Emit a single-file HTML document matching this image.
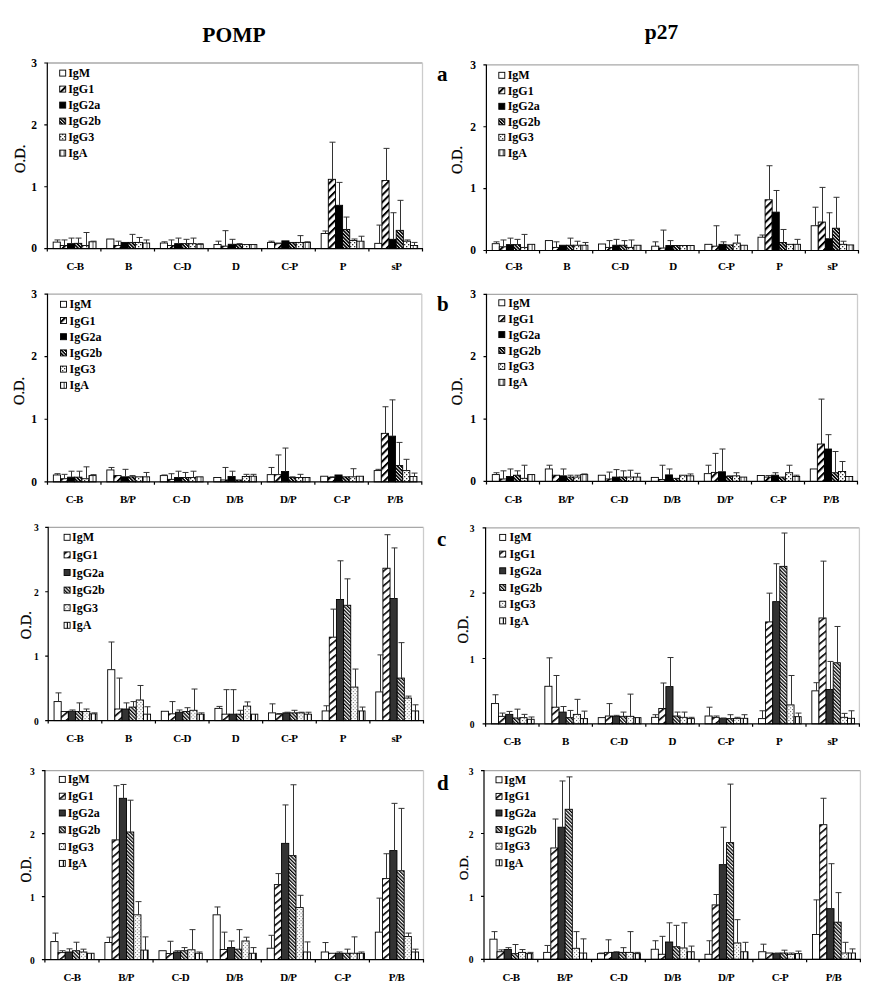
<!DOCTYPE html>
<html><head><meta charset="utf-8"><style>
html,body{margin:0;padding:0;background:#fff;}
svg{display:block;}
text{font-family:"Liberation Serif",serif;font-weight:bold;fill:#000;}
.tk{font-size:11.5px;text-anchor:end;}
.cat{font-size:11px;text-anchor:middle;}
.od{font-size:14.5px;text-anchor:middle;font-weight:normal;stroke:#000;stroke-width:0.3px;}
.lg{font-size:12px;}
.ttl{font-size:21.5px;text-anchor:middle;}
.let{font-size:21px;}
</style></head><body>
<svg width="875" height="1000" viewBox="0 0 875 1000">

<defs>
<pattern id="pG1_1" patternUnits="userSpaceOnUse" width="5.09" height="10" patternTransform="rotate(45)">
 <rect width="5.09" height="10" fill="#fff"/><rect width="2.0" height="10" fill="#000"/></pattern>
<pattern id="pG1_2" patternUnits="userSpaceOnUse" width="5.6" height="10" patternTransform="rotate(50)">
 <rect width="5.6" height="10" fill="#fff"/><rect width="1.6" height="10" fill="#000"/></pattern>
<pattern id="pG2b_1" patternUnits="userSpaceOnUse" width="2.47" height="10" patternTransform="rotate(-45)">
 <rect width="2.47" height="10" fill="#fff"/><rect width="1.6" height="10" fill="#000"/></pattern>
<pattern id="pG2b_2" patternUnits="userSpaceOnUse" width="2.55" height="10" patternTransform="rotate(-45)">
 <rect width="2.55" height="10" fill="#fff"/><rect width="1.3" height="10" fill="#000"/></pattern>
<pattern id="pG3_1" patternUnits="userSpaceOnUse" width="4" height="4">
 <rect width="4" height="4" fill="#fff"/><rect x="0" y="0" width="1.3" height="1.3" fill="#333"/><rect x="2" y="2" width="1.3" height="1.3" fill="#333"/></pattern>
<pattern id="pG3_2" patternUnits="userSpaceOnUse" width="3.6" height="3.6">
 <rect width="3.6" height="3.6" fill="#fff"/><rect x="0" y="0" width="1" height="1" fill="#555"/><rect x="1.8" y="1.8" width="1" height="1" fill="#555"/></pattern>
<pattern id="pA_1" patternUnits="userSpaceOnUse" width="3.6" height="4">
 <rect width="3.6" height="4" fill="#fff"/><rect x="2.4" width="1" height="4" fill="#444"/></pattern>
<pattern id="pA_2" patternUnits="userSpaceOnUse" width="4" height="4">
 <rect width="4" height="4" fill="#fff"/><rect x="2.8" width="1.2" height="4" fill="#111"/></pattern>
</defs>
<rect width="875" height="1000" fill="#fff"/>
<g>
<text x="234" y="41.8" class="ttl">POMP</text>
<text x="661.5" y="38.8" class="ttl">p27</text>
<text x="437" y="81.4" class="let">a</text>
<text x="437" y="310.8" class="let">b</text>
<text x="437" y="546" class="let">c</text>
<text x="437" y="789.8" class="let">d</text>
<path d="M47.3 63H422.5" fill="none" stroke="#a8a8a8" stroke-width="1.3"/>
<path d="M422.5 63V248.6" fill="none" stroke="#ccc" stroke-width="1.3"/>
<rect x="53.16" y="242.1" width="7.15" height="6.5" fill="#fff" stroke="#000" stroke-width="0.9"/>
<rect x="60.31" y="245.51" width="7.15" height="3.09" fill="url(#pG1_1)" stroke="#000" stroke-width="0.9"/>
<rect x="67.45" y="243.65" width="7.15" height="4.95" fill="#000" stroke="#000" stroke-width="0.9"/>
<rect x="74.6" y="243.34" width="7.15" height="5.26" fill="url(#pG2b_1)" stroke="#000" stroke-width="0.9"/>
<rect x="81.75" y="245.51" width="7.15" height="3.09" fill="url(#pG3_1)" stroke="#000" stroke-width="0.9"/>
<rect x="88.89" y="241.79" width="7.15" height="6.81" fill="url(#pA_1)" stroke="#000" stroke-width="0.9"/>
<rect x="106.76" y="239.01" width="7.15" height="9.59" fill="#fff" stroke="#000" stroke-width="0.9"/>
<rect x="113.91" y="245.51" width="7.15" height="3.09" fill="url(#pG1_1)" stroke="#000" stroke-width="0.9"/>
<rect x="121.05" y="242.41" width="7.15" height="6.19" fill="#000" stroke="#000" stroke-width="0.9"/>
<rect x="128.2" y="242.41" width="7.15" height="6.19" fill="url(#pG2b_1)" stroke="#000" stroke-width="0.9"/>
<rect x="135.35" y="242.41" width="7.15" height="6.19" fill="url(#pG3_1)" stroke="#000" stroke-width="0.9"/>
<rect x="142.49" y="243.03" width="7.15" height="5.57" fill="url(#pA_1)" stroke="#000" stroke-width="0.9"/>
<rect x="160.36" y="243.03" width="7.15" height="5.57" fill="#fff" stroke="#000" stroke-width="0.9"/>
<rect x="167.51" y="245.51" width="7.15" height="3.09" fill="url(#pG1_1)" stroke="#000" stroke-width="0.9"/>
<rect x="174.65" y="243.65" width="7.15" height="4.95" fill="#000" stroke="#000" stroke-width="0.9"/>
<rect x="181.8" y="243.65" width="7.15" height="4.95" fill="url(#pG2b_1)" stroke="#000" stroke-width="0.9"/>
<rect x="188.95" y="243.65" width="7.15" height="4.95" fill="url(#pG3_1)" stroke="#000" stroke-width="0.9"/>
<rect x="196.09" y="244.27" width="7.15" height="4.33" fill="url(#pA_1)" stroke="#000" stroke-width="0.9"/>
<rect x="213.96" y="244.58" width="7.15" height="4.02" fill="#fff" stroke="#000" stroke-width="0.9"/>
<rect x="221.11" y="246.13" width="7.15" height="2.47" fill="url(#pG1_1)" stroke="#000" stroke-width="0.9"/>
<rect x="228.25" y="244.27" width="7.15" height="4.33" fill="#000" stroke="#000" stroke-width="0.9"/>
<rect x="235.4" y="244.58" width="7.15" height="4.02" fill="url(#pG2b_1)" stroke="#000" stroke-width="0.9"/>
<rect x="242.55" y="244.58" width="7.15" height="4.02" fill="url(#pG3_1)" stroke="#000" stroke-width="0.9"/>
<rect x="249.69" y="244.58" width="7.15" height="4.02" fill="url(#pA_1)" stroke="#000" stroke-width="0.9"/>
<rect x="267.56" y="242.41" width="7.15" height="6.19" fill="#fff" stroke="#000" stroke-width="0.9"/>
<rect x="274.71" y="243.65" width="7.15" height="4.95" fill="url(#pG1_1)" stroke="#000" stroke-width="0.9"/>
<rect x="281.85" y="240.87" width="7.15" height="7.73" fill="#000" stroke="#000" stroke-width="0.9"/>
<rect x="289" y="242.41" width="7.15" height="6.19" fill="url(#pG2b_1)" stroke="#000" stroke-width="0.9"/>
<rect x="296.15" y="242.41" width="7.15" height="6.19" fill="url(#pG3_1)" stroke="#000" stroke-width="0.9"/>
<rect x="303.29" y="242.41" width="7.15" height="6.19" fill="url(#pA_1)" stroke="#000" stroke-width="0.9"/>
<rect x="321.16" y="233.44" width="7.15" height="15.16" fill="#fff" stroke="#000" stroke-width="0.9"/>
<rect x="328.31" y="179.31" width="7.15" height="69.29" fill="url(#pG1_1)" stroke="#000" stroke-width="0.9"/>
<rect x="335.45" y="205.29" width="7.15" height="43.31" fill="#000" stroke="#000" stroke-width="0.9"/>
<rect x="342.6" y="229.42" width="7.15" height="19.18" fill="url(#pG2b_1)" stroke="#000" stroke-width="0.9"/>
<rect x="349.75" y="240.56" width="7.15" height="8.04" fill="url(#pG3_1)" stroke="#000" stroke-width="0.9"/>
<rect x="356.89" y="241.18" width="7.15" height="7.42" fill="url(#pA_1)" stroke="#000" stroke-width="0.9"/>
<rect x="374.76" y="243.34" width="7.15" height="5.26" fill="#fff" stroke="#000" stroke-width="0.9"/>
<rect x="381.91" y="180.55" width="7.15" height="68.05" fill="url(#pG1_1)" stroke="#000" stroke-width="0.9"/>
<rect x="389.05" y="239.32" width="7.15" height="9.28" fill="#000" stroke="#000" stroke-width="0.9"/>
<rect x="396.2" y="230.35" width="7.15" height="18.25" fill="url(#pG2b_1)" stroke="#000" stroke-width="0.9"/>
<rect x="403.35" y="241.18" width="7.15" height="7.42" fill="url(#pG3_1)" stroke="#000" stroke-width="0.9"/>
<rect x="410.49" y="245.51" width="7.15" height="3.09" fill="url(#pA_1)" stroke="#000" stroke-width="0.9"/>
<path d="M57.5 242.1V239.94M54.5 239.94H60.5M64.5 245.51V239.94M61.5 239.94H67.5M71.5 243.65V238.08M68.5 238.08H74.5M78.5 243.34V238.08M75.5 238.08H81.5M86.5 245.51V232.51M83.5 232.51H89.5M93.5 241.79V241.18M90.5 241.18H96.5M118.5 245.51V241.18M115.5 241.18H121.5M132.5 242.41V234.37M129.5 234.37H135.5M139.5 242.41V237.46M136.5 237.46H142.5M146.5 243.03V239.94M143.5 239.94H149.5M164.5 243.03V241.79M161.5 241.79H167.5M171.5 245.51V239.94M168.5 239.94H174.5M178.5 243.65V238.08M175.5 238.08H181.5M186.5 243.65V239.32M183.5 239.32H189.5M193.5 243.65V238.08M190.5 238.08H196.5M200.5 244.27V243.65M197.5 243.65H203.5M218.5 244.58V241.18M215.5 241.18H221.5M225.5 246.13V230.66M222.5 230.66H228.5M232.5 244.27V239.32M229.5 239.32H235.5M239.5 244.58V243.65M236.5 243.65H242.5M271.5 242.41V241.18M268.5 241.18H274.5M278.5 243.65V243.03M275.5 243.03H281.5M300.5 242.41V235.61M297.5 235.61H303.5M307.5 242.41V241.79M304.5 241.79H310.5M325.5 233.44V230.97M322.5 230.97H328.5M332.5 179.31V142.19M329.5 142.19H335.5M339.5 205.29V182.4M336.5 182.4H342.5M346.5 229.42V217.05M343.5 217.05H349.5M354.5 240.56V239.01M351.5 239.01H357.5M361.5 241.18V236.23M358.5 236.23H364.5M379.5 243.34V225.09M376.5 225.09H382.5M386.5 180.55V148.38M383.5 148.38H389.5M393.5 239.32V212.72M390.5 212.72H396.5M400.5 230.35V200.34M397.5 200.34H403.5M407.5 241.18V239.94M404.5 239.94H410.5M414.5 245.51V242.41M411.5 242.41H417.5" fill="none" stroke="#333" stroke-width="1"/>
<path d="M47.3 62.5V251.6M44.3 248.6H47.3M44.3 186.73H47.3M44.3 124.87H47.3M44.3 63H47.3M47.3 248.6H423M100.9 248.6V251.6M154.5 248.6V251.6M208.1 248.6V251.6M261.7 248.6V251.6M315.3 248.6V251.6M368.9 248.6V251.6M422.5 248.6V251.6" fill="none" stroke="#000" stroke-width="1.2"/>
<text x="37" y="252.4" class="tk">0</text>
<text x="37" y="190.53" class="tk">1</text>
<text x="37" y="128.67" class="tk">2</text>
<text x="37" y="66.8" class="tk">3</text>
<text x="74.9" y="269.7" class="cat" letter-spacing="-0.7">C-B</text>
<text x="128.5" y="269.7" class="cat" letter-spacing="-0.5">B</text>
<text x="182.1" y="269.7" class="cat" letter-spacing="-0.7">C-D</text>
<text x="235.7" y="269.7" class="cat" letter-spacing="-0.5">D</text>
<text x="289.3" y="269.7" class="cat" letter-spacing="-0.7">C-P</text>
<text x="342.9" y="269.7" class="cat" letter-spacing="-0.5">P</text>
<text x="396.5" y="269.7" class="cat" letter-spacing="-0.5">sP</text>
<text transform="translate(25 158.8) rotate(-90) scale(1.0 1)" class="od" style="font-size:14.5px">O.D.</text>
<rect x="59.7" y="70.1" width="6" height="6" fill="#fff" stroke="#000" stroke-width="0.9"/>
<text x="68.2" y="77.1" class="lg">IgM</text>
<rect x="59.7" y="86.1" width="6" height="6" fill="url(#pG1_1)" stroke="#000" stroke-width="0.9"/>
<text x="68.2" y="93.1" class="lg">IgG1</text>
<rect x="59.7" y="102.1" width="6" height="6" fill="#000" stroke="#000" stroke-width="0.9"/>
<text x="68.2" y="109.1" class="lg">IgG2a</text>
<rect x="59.7" y="118.1" width="6" height="6" fill="url(#pG2b_1)" stroke="#000" stroke-width="0.9"/>
<text x="68.2" y="125.1" class="lg">IgG2b</text>
<rect x="59.7" y="134.1" width="6" height="6" fill="url(#pG3_1)" stroke="#000" stroke-width="0.9"/>
<text x="68.2" y="141.1" class="lg">IgG3</text>
<rect x="59.7" y="150.1" width="6" height="6" fill="url(#pA_1)" stroke="#000" stroke-width="0.9"/>
<text x="68.2" y="157.1" class="lg">IgA</text>
<path d="M486.4 64.9H858.5" fill="none" stroke="#a8a8a8" stroke-width="1.3"/>
<path d="M858.5 64.9V250.5" fill="none" stroke="#ccc" stroke-width="1.3"/>
<rect x="492.22" y="243.69" width="7.09" height="6.81" fill="#fff" stroke="#000" stroke-width="0.9"/>
<rect x="499.3" y="246.79" width="7.09" height="3.71" fill="url(#pG1_1)" stroke="#000" stroke-width="0.9"/>
<rect x="506.39" y="244.62" width="7.09" height="5.88" fill="#000" stroke="#000" stroke-width="0.9"/>
<rect x="513.48" y="244.62" width="7.09" height="5.88" fill="url(#pG2b_1)" stroke="#000" stroke-width="0.9"/>
<rect x="520.57" y="247.41" width="7.09" height="3.09" fill="url(#pG3_1)" stroke="#000" stroke-width="0.9"/>
<rect x="527.65" y="244.31" width="7.09" height="6.19" fill="url(#pA_1)" stroke="#000" stroke-width="0.9"/>
<rect x="545.37" y="240.6" width="7.09" height="9.9" fill="#fff" stroke="#000" stroke-width="0.9"/>
<rect x="552.46" y="247.41" width="7.09" height="3.09" fill="url(#pG1_1)" stroke="#000" stroke-width="0.9"/>
<rect x="559.55" y="245.24" width="7.09" height="5.26" fill="#000" stroke="#000" stroke-width="0.9"/>
<rect x="566.64" y="245.24" width="7.09" height="5.26" fill="url(#pG2b_1)" stroke="#000" stroke-width="0.9"/>
<rect x="573.72" y="245.24" width="7.09" height="5.26" fill="url(#pG3_1)" stroke="#000" stroke-width="0.9"/>
<rect x="580.81" y="245.24" width="7.09" height="5.26" fill="url(#pA_1)" stroke="#000" stroke-width="0.9"/>
<rect x="598.53" y="244" width="7.09" height="6.5" fill="#fff" stroke="#000" stroke-width="0.9"/>
<rect x="605.62" y="247.41" width="7.09" height="3.09" fill="url(#pG1_1)" stroke="#000" stroke-width="0.9"/>
<rect x="612.71" y="245.24" width="7.09" height="5.26" fill="#000" stroke="#000" stroke-width="0.9"/>
<rect x="619.79" y="245.24" width="7.09" height="5.26" fill="url(#pG2b_1)" stroke="#000" stroke-width="0.9"/>
<rect x="626.88" y="247.41" width="7.09" height="3.09" fill="url(#pG3_1)" stroke="#000" stroke-width="0.9"/>
<rect x="633.97" y="245.24" width="7.09" height="5.26" fill="url(#pA_1)" stroke="#000" stroke-width="0.9"/>
<rect x="651.69" y="246.17" width="7.09" height="4.33" fill="#fff" stroke="#000" stroke-width="0.9"/>
<rect x="658.77" y="248.03" width="7.09" height="2.47" fill="url(#pG1_1)" stroke="#000" stroke-width="0.9"/>
<rect x="665.86" y="245.55" width="7.09" height="4.95" fill="#000" stroke="#000" stroke-width="0.9"/>
<rect x="672.95" y="245.55" width="7.09" height="4.95" fill="url(#pG2b_1)" stroke="#000" stroke-width="0.9"/>
<rect x="680.04" y="245.55" width="7.09" height="4.95" fill="url(#pG3_1)" stroke="#000" stroke-width="0.9"/>
<rect x="687.13" y="245.55" width="7.09" height="4.95" fill="url(#pA_1)" stroke="#000" stroke-width="0.9"/>
<rect x="704.84" y="244.31" width="7.09" height="6.19" fill="#fff" stroke="#000" stroke-width="0.9"/>
<rect x="711.93" y="246.17" width="7.09" height="4.33" fill="url(#pG1_1)" stroke="#000" stroke-width="0.9"/>
<rect x="719.02" y="244.31" width="7.09" height="6.19" fill="#000" stroke="#000" stroke-width="0.9"/>
<rect x="726.11" y="244.93" width="7.09" height="5.57" fill="url(#pG2b_1)" stroke="#000" stroke-width="0.9"/>
<rect x="733.19" y="243.08" width="7.09" height="7.42" fill="url(#pG3_1)" stroke="#000" stroke-width="0.9"/>
<rect x="740.28" y="245.24" width="7.09" height="5.26" fill="url(#pA_1)" stroke="#000" stroke-width="0.9"/>
<rect x="758" y="237.2" width="7.09" height="13.3" fill="#fff" stroke="#000" stroke-width="0.9"/>
<rect x="765.09" y="199.77" width="7.09" height="50.73" fill="url(#pG1_1)" stroke="#000" stroke-width="0.9"/>
<rect x="772.18" y="212.14" width="7.09" height="38.36" fill="#000" stroke="#000" stroke-width="0.9"/>
<rect x="779.26" y="242.46" width="7.09" height="8.04" fill="url(#pG2b_1)" stroke="#000" stroke-width="0.9"/>
<rect x="786.35" y="244.31" width="7.09" height="6.19" fill="url(#pG3_1)" stroke="#000" stroke-width="0.9"/>
<rect x="793.44" y="244.31" width="7.09" height="6.19" fill="url(#pA_1)" stroke="#000" stroke-width="0.9"/>
<rect x="811.16" y="225.75" width="7.09" height="24.75" fill="#fff" stroke="#000" stroke-width="0.9"/>
<rect x="818.25" y="222.04" width="7.09" height="28.46" fill="url(#pG1_1)" stroke="#000" stroke-width="0.9"/>
<rect x="825.33" y="238.75" width="7.09" height="11.75" fill="#000" stroke="#000" stroke-width="0.9"/>
<rect x="832.42" y="228.23" width="7.09" height="22.27" fill="url(#pG2b_1)" stroke="#000" stroke-width="0.9"/>
<rect x="839.51" y="244.31" width="7.09" height="6.19" fill="url(#pG3_1)" stroke="#000" stroke-width="0.9"/>
<rect x="846.6" y="244.93" width="7.09" height="5.57" fill="url(#pA_1)" stroke="#000" stroke-width="0.9"/>
<path d="M496.5 243.69V241.84M493.5 241.84H499.5M503.5 246.79V239.98M500.5 239.98H506.5M510.5 244.62V238.13M507.5 238.13H513.5M517.5 244.62V239.36M514.5 239.36H520.5M524.5 247.41V234.41M521.5 234.41H527.5M556.5 247.41V241.84M553.5 241.84H559.5M570.5 245.24V238.13M567.5 238.13H573.5M577.5 245.24V241.22M574.5 241.22H580.5M585.5 245.24V242.46M582.5 242.46H588.5M609.5 247.41V240.6M606.5 240.6H612.5M616.5 245.24V239.36M613.5 239.36H619.5M624.5 245.24V240.6M621.5 240.6H627.5M631.5 247.41V239.98M628.5 239.98H634.5M655.5 246.17V241.84M652.5 241.84H658.5M663.5 248.03V230.08M660.5 230.08H666.5M670.5 245.55V240.6M667.5 240.6H673.5M716.5 246.17V225.75M713.5 225.75H719.5M723.5 244.31V241.84M720.5 241.84H726.5M737.5 243.08V235.03M734.5 235.03H740.5M762.5 237.2V235.03M759.5 235.03H765.5M769.5 199.77V165.74M766.5 165.74H772.5M776.5 212.14V190.49M773.5 190.49H779.5M783.5 242.46V229.47M780.5 229.47H786.5M797.5 244.31V239.36M794.5 239.36H800.5M815.5 225.75V207.19M812.5 207.19H818.5M822.5 222.04V187.4M819.5 187.4H825.5M829.5 238.75V212.76M826.5 212.76H832.5M836.5 228.23V197.29M833.5 197.29H839.5M843.5 244.31V241.22M840.5 241.22H846.5" fill="none" stroke="#333" stroke-width="1"/>
<path d="M486.4 64.4V253.5M483.4 250.5H486.4M483.4 188.63H486.4M483.4 126.77H486.4M483.4 64.9H486.4M486.4 250.5H859M539.56 250.5V253.5M592.71 250.5V253.5M645.87 250.5V253.5M699.03 250.5V253.5M752.19 250.5V253.5M805.34 250.5V253.5M858.5 250.5V253.5" fill="none" stroke="#000" stroke-width="1.2"/>
<text x="476" y="254.3" class="tk">0</text>
<text x="476" y="192.43" class="tk">1</text>
<text x="476" y="130.57" class="tk">2</text>
<text x="476" y="68.7" class="tk">3</text>
<text x="513.58" y="269.9" class="cat" letter-spacing="-0.7">C-B</text>
<text x="566.74" y="269.9" class="cat" letter-spacing="-0.5">B</text>
<text x="619.89" y="269.9" class="cat" letter-spacing="-0.7">C-D</text>
<text x="673.05" y="269.9" class="cat" letter-spacing="-0.5">D</text>
<text x="726.21" y="269.9" class="cat" letter-spacing="-0.7">C-P</text>
<text x="779.36" y="269.9" class="cat" letter-spacing="-0.5">P</text>
<text x="832.52" y="269.9" class="cat" letter-spacing="-0.5">sP</text>
<text transform="translate(462 160) rotate(-90) scale(1.0 1)" class="od" style="font-size:14.5px">O.D.</text>
<rect x="498.8" y="72.3" width="6" height="6" fill="#fff" stroke="#000" stroke-width="0.9"/>
<text x="507.7" y="79.3" class="lg">IgM</text>
<rect x="498.8" y="87.8" width="6" height="6" fill="url(#pG1_1)" stroke="#000" stroke-width="0.9"/>
<text x="507.7" y="94.8" class="lg">IgG1</text>
<rect x="498.8" y="103.3" width="6" height="6" fill="#000" stroke="#000" stroke-width="0.9"/>
<text x="507.7" y="110.3" class="lg">IgG2a</text>
<rect x="498.8" y="118.8" width="6" height="6" fill="url(#pG2b_1)" stroke="#000" stroke-width="0.9"/>
<text x="507.7" y="125.8" class="lg">IgG2b</text>
<rect x="498.8" y="134.3" width="6" height="6" fill="url(#pG3_1)" stroke="#000" stroke-width="0.9"/>
<text x="507.7" y="141.3" class="lg">IgG3</text>
<rect x="498.8" y="149.8" width="6" height="6" fill="url(#pA_1)" stroke="#000" stroke-width="0.9"/>
<text x="507.7" y="156.8" class="lg">IgA</text>
<path d="M47.5 294.1H421.8" fill="none" stroke="#a8a8a8" stroke-width="1.3"/>
<path d="M421.8 294.1V481.85" fill="none" stroke="#ccc" stroke-width="1.3"/>
<rect x="53.35" y="474.97" width="7.13" height="6.88" fill="#fff" stroke="#000" stroke-width="0.9"/>
<rect x="60.48" y="478.72" width="7.13" height="3.13" fill="url(#pG1_1)" stroke="#000" stroke-width="0.9"/>
<rect x="67.61" y="477.16" width="7.13" height="4.69" fill="#000" stroke="#000" stroke-width="0.9"/>
<rect x="74.74" y="477.16" width="7.13" height="4.69" fill="url(#pG2b_1)" stroke="#000" stroke-width="0.9"/>
<rect x="81.87" y="478.72" width="7.13" height="3.13" fill="url(#pG3_1)" stroke="#000" stroke-width="0.9"/>
<rect x="88.99" y="475.59" width="7.13" height="6.26" fill="url(#pA_1)" stroke="#000" stroke-width="0.9"/>
<rect x="106.82" y="469.96" width="7.13" height="11.89" fill="#fff" stroke="#000" stroke-width="0.9"/>
<rect x="113.95" y="475.59" width="7.13" height="6.26" fill="url(#pG1_1)" stroke="#000" stroke-width="0.9"/>
<rect x="121.08" y="476.84" width="7.13" height="5.01" fill="#000" stroke="#000" stroke-width="0.9"/>
<rect x="128.21" y="476.84" width="7.13" height="5.01" fill="url(#pG2b_1)" stroke="#000" stroke-width="0.9"/>
<rect x="135.34" y="476.84" width="7.13" height="5.01" fill="url(#pG3_1)" stroke="#000" stroke-width="0.9"/>
<rect x="142.47" y="476.84" width="7.13" height="5.01" fill="url(#pA_1)" stroke="#000" stroke-width="0.9"/>
<rect x="160.29" y="475.59" width="7.13" height="6.26" fill="#fff" stroke="#000" stroke-width="0.9"/>
<rect x="167.42" y="479.35" width="7.13" height="2.5" fill="url(#pG1_1)" stroke="#000" stroke-width="0.9"/>
<rect x="174.55" y="477.47" width="7.13" height="4.38" fill="#000" stroke="#000" stroke-width="0.9"/>
<rect x="181.68" y="477.47" width="7.13" height="4.38" fill="url(#pG2b_1)" stroke="#000" stroke-width="0.9"/>
<rect x="188.81" y="477.47" width="7.13" height="4.38" fill="url(#pG3_1)" stroke="#000" stroke-width="0.9"/>
<rect x="195.94" y="476.84" width="7.13" height="5.01" fill="url(#pA_1)" stroke="#000" stroke-width="0.9"/>
<rect x="213.76" y="477.47" width="7.13" height="4.38" fill="#fff" stroke="#000" stroke-width="0.9"/>
<rect x="220.89" y="479.97" width="7.13" height="1.88" fill="url(#pG1_1)" stroke="#000" stroke-width="0.9"/>
<rect x="228.02" y="476.53" width="7.13" height="5.32" fill="#000" stroke="#000" stroke-width="0.9"/>
<rect x="235.15" y="479.97" width="7.13" height="1.88" fill="url(#pG2b_1)" stroke="#000" stroke-width="0.9"/>
<rect x="242.28" y="476.53" width="7.13" height="5.32" fill="url(#pG3_1)" stroke="#000" stroke-width="0.9"/>
<rect x="249.41" y="476.22" width="7.13" height="5.63" fill="url(#pA_1)" stroke="#000" stroke-width="0.9"/>
<rect x="267.23" y="474.65" width="7.13" height="7.2" fill="#fff" stroke="#000" stroke-width="0.9"/>
<rect x="274.36" y="474.65" width="7.13" height="7.2" fill="url(#pG1_1)" stroke="#000" stroke-width="0.9"/>
<rect x="281.49" y="471.52" width="7.13" height="10.33" fill="#000" stroke="#000" stroke-width="0.9"/>
<rect x="288.62" y="477.47" width="7.13" height="4.38" fill="url(#pG2b_1)" stroke="#000" stroke-width="0.9"/>
<rect x="295.75" y="477.47" width="7.13" height="4.38" fill="url(#pG3_1)" stroke="#000" stroke-width="0.9"/>
<rect x="302.88" y="477.47" width="7.13" height="4.38" fill="url(#pA_1)" stroke="#000" stroke-width="0.9"/>
<rect x="320.7" y="476.22" width="7.13" height="5.63" fill="#fff" stroke="#000" stroke-width="0.9"/>
<rect x="327.83" y="477.47" width="7.13" height="4.38" fill="url(#pG1_1)" stroke="#000" stroke-width="0.9"/>
<rect x="334.96" y="474.97" width="7.13" height="6.88" fill="#000" stroke="#000" stroke-width="0.9"/>
<rect x="342.09" y="476.84" width="7.13" height="5.01" fill="url(#pG2b_1)" stroke="#000" stroke-width="0.9"/>
<rect x="349.22" y="476.84" width="7.13" height="5.01" fill="url(#pG3_1)" stroke="#000" stroke-width="0.9"/>
<rect x="356.35" y="476.22" width="7.13" height="5.63" fill="url(#pA_1)" stroke="#000" stroke-width="0.9"/>
<rect x="374.18" y="470.59" width="7.13" height="11.27" fill="#fff" stroke="#000" stroke-width="0.9"/>
<rect x="381.31" y="433.35" width="7.13" height="48.5" fill="url(#pG1_1)" stroke="#000" stroke-width="0.9"/>
<rect x="388.43" y="436.16" width="7.13" height="45.69" fill="#000" stroke="#000" stroke-width="0.9"/>
<rect x="395.56" y="465.58" width="7.13" height="16.27" fill="url(#pG2b_1)" stroke="#000" stroke-width="0.9"/>
<rect x="402.69" y="470.59" width="7.13" height="11.27" fill="url(#pG3_1)" stroke="#000" stroke-width="0.9"/>
<rect x="409.82" y="476.53" width="7.13" height="5.32" fill="url(#pA_1)" stroke="#000" stroke-width="0.9"/>
<path d="M57.5 474.97V473.71M54.5 473.71H60.5M64.5 478.72V474.34M61.5 474.34H67.5M71.5 477.16V471.21M68.5 471.21H74.5M79.5 477.16V471.21M76.5 471.21H82.5M86.5 478.72V466.83M83.5 466.83H89.5M93.5 475.59V474.65M90.5 474.65H96.5M111.5 469.96V467.46M108.5 467.46H114.5M125.5 476.84V469.33M122.5 469.33H128.5M132.5 476.84V475.59M129.5 475.59H135.5M146.5 476.84V472.46M143.5 472.46H149.5M164.5 475.59V474.97M161.5 474.97H167.5M171.5 479.35V473.71M168.5 473.71H174.5M178.5 477.47V471.21M175.5 471.21H181.5M185.5 477.47V472.46M182.5 472.46H188.5M193.5 477.47V471.21M190.5 471.21H196.5M225.5 479.97V467.46M222.5 467.46H228.5M232.5 476.53V471.21M229.5 471.21H235.5M246.5 476.53V474.34M243.5 474.34H249.5M253.5 476.22V474.34M250.5 474.34H256.5M271.5 474.65V467.46M268.5 467.46H274.5M278.5 474.65V454.94M275.5 454.94H281.5M285.5 471.52V448.06M282.5 448.06H288.5M292.5 477.47V476.84M289.5 476.84H295.5M300.5 477.47V474.34M297.5 474.34H303.5M332.5 477.47V476.84M329.5 476.84H335.5M353.5 476.84V468.71M350.5 468.71H356.5M378.5 470.59V469.33M375.5 469.33H381.5M385.5 433.35V406.75M382.5 406.75H388.5M392.5 436.16V399.87M389.5 399.87H395.5M399.5 465.58V442.42M396.5 442.42H402.5M406.5 470.59V459.32M403.5 459.32H409.5M414.5 476.53V473.09M411.5 473.09H417.5" fill="none" stroke="#333" stroke-width="1"/>
<path d="M47.5 293.6V484.85M44.5 481.85H47.5M44.5 419.27H47.5M44.5 356.68H47.5M44.5 294.1H47.5M47.5 481.85H422.3M100.97 481.85V484.85M154.44 481.85V484.85M207.91 481.85V484.85M261.39 481.85V484.85M314.86 481.85V484.85M368.33 481.85V484.85M421.8 481.85V484.85" fill="none" stroke="#000" stroke-width="1.2"/>
<text x="37" y="485.65" class="tk">0</text>
<text x="37" y="423.07" class="tk">1</text>
<text x="37" y="360.48" class="tk">2</text>
<text x="37" y="297.9" class="tk">3</text>
<text x="74.24" y="502.8" class="cat" letter-spacing="-0.7">C-B</text>
<text x="127.71" y="502.8" class="cat" letter-spacing="-0.5">B/P</text>
<text x="181.18" y="502.8" class="cat" letter-spacing="-0.7">C-D</text>
<text x="234.65" y="502.8" class="cat" letter-spacing="-0.5">D/B</text>
<text x="288.12" y="502.8" class="cat" letter-spacing="-0.5">D/P</text>
<text x="341.59" y="502.8" class="cat" letter-spacing="-0.7">C-P</text>
<text x="395.06" y="502.8" class="cat" letter-spacing="-0.5">P/B</text>
<text transform="translate(24.2 391) rotate(-90) scale(1.0 1)" class="od" style="font-size:14.5px">O.D.</text>
<rect x="60.5" y="301.3" width="6" height="6" fill="#fff" stroke="#000" stroke-width="0.9"/>
<text x="69.6" y="308.3" class="lg">IgM</text>
<rect x="60.5" y="317.5" width="6" height="6" fill="url(#pG1_1)" stroke="#000" stroke-width="0.9"/>
<text x="69.6" y="324.5" class="lg">IgG1</text>
<rect x="60.5" y="333.7" width="6" height="6" fill="#000" stroke="#000" stroke-width="0.9"/>
<text x="69.6" y="340.7" class="lg">IgG2a</text>
<rect x="60.5" y="349.9" width="6" height="6" fill="url(#pG2b_1)" stroke="#000" stroke-width="0.9"/>
<text x="69.6" y="356.9" class="lg">IgG2b</text>
<rect x="60.5" y="366.1" width="6" height="6" fill="url(#pG3_1)" stroke="#000" stroke-width="0.9"/>
<text x="69.6" y="373.1" class="lg">IgG3</text>
<rect x="60.5" y="382.3" width="6" height="6" fill="url(#pA_1)" stroke="#000" stroke-width="0.9"/>
<text x="69.6" y="389.3" class="lg">IgA</text>
<path d="M486.5 294.3H857.5" fill="none" stroke="#a8a8a8" stroke-width="1.3"/>
<path d="M857.5 294.3V481.45" fill="none" stroke="#ccc" stroke-width="1.3"/>
<rect x="492.3" y="474.59" width="7.07" height="6.86" fill="#fff" stroke="#000" stroke-width="0.9"/>
<rect x="499.37" y="478.95" width="7.07" height="2.5" fill="url(#pG1_1)" stroke="#000" stroke-width="0.9"/>
<rect x="506.43" y="476.46" width="7.07" height="4.99" fill="#000" stroke="#000" stroke-width="0.9"/>
<rect x="513.5" y="475.21" width="7.07" height="6.24" fill="url(#pG2b_1)" stroke="#000" stroke-width="0.9"/>
<rect x="520.57" y="478.33" width="7.07" height="3.12" fill="url(#pG3_1)" stroke="#000" stroke-width="0.9"/>
<rect x="527.63" y="474.59" width="7.07" height="6.86" fill="url(#pA_1)" stroke="#000" stroke-width="0.9"/>
<rect x="545.3" y="468.97" width="7.07" height="12.48" fill="#fff" stroke="#000" stroke-width="0.9"/>
<rect x="552.37" y="475.21" width="7.07" height="6.24" fill="url(#pG1_1)" stroke="#000" stroke-width="0.9"/>
<rect x="559.43" y="475.84" width="7.07" height="5.61" fill="#000" stroke="#000" stroke-width="0.9"/>
<rect x="566.5" y="477.08" width="7.07" height="4.37" fill="url(#pG2b_1)" stroke="#000" stroke-width="0.9"/>
<rect x="573.57" y="477.08" width="7.07" height="4.37" fill="url(#pG3_1)" stroke="#000" stroke-width="0.9"/>
<rect x="580.63" y="474.59" width="7.07" height="6.86" fill="url(#pA_1)" stroke="#000" stroke-width="0.9"/>
<rect x="598.3" y="475.21" width="7.07" height="6.24" fill="#fff" stroke="#000" stroke-width="0.9"/>
<rect x="605.37" y="478.95" width="7.07" height="2.5" fill="url(#pG1_1)" stroke="#000" stroke-width="0.9"/>
<rect x="612.43" y="477.08" width="7.07" height="4.37" fill="#000" stroke="#000" stroke-width="0.9"/>
<rect x="619.5" y="477.08" width="7.07" height="4.37" fill="url(#pG2b_1)" stroke="#000" stroke-width="0.9"/>
<rect x="626.57" y="477.08" width="7.07" height="4.37" fill="url(#pG3_1)" stroke="#000" stroke-width="0.9"/>
<rect x="633.63" y="477.08" width="7.07" height="4.37" fill="url(#pA_1)" stroke="#000" stroke-width="0.9"/>
<rect x="651.3" y="477.4" width="7.07" height="4.05" fill="#fff" stroke="#000" stroke-width="0.9"/>
<rect x="658.37" y="479.58" width="7.07" height="1.87" fill="url(#pG1_1)" stroke="#000" stroke-width="0.9"/>
<rect x="665.43" y="474.9" width="7.07" height="6.55" fill="#000" stroke="#000" stroke-width="0.9"/>
<rect x="672.5" y="478.33" width="7.07" height="3.12" fill="url(#pG2b_1)" stroke="#000" stroke-width="0.9"/>
<rect x="679.57" y="475.21" width="7.07" height="6.24" fill="url(#pG3_1)" stroke="#000" stroke-width="0.9"/>
<rect x="686.63" y="475.84" width="7.07" height="5.61" fill="url(#pA_1)" stroke="#000" stroke-width="0.9"/>
<rect x="704.3" y="473.65" width="7.07" height="7.8" fill="#fff" stroke="#000" stroke-width="0.9"/>
<rect x="711.37" y="472.4" width="7.07" height="9.05" fill="url(#pG1_1)" stroke="#000" stroke-width="0.9"/>
<rect x="718.43" y="471.78" width="7.07" height="9.67" fill="#000" stroke="#000" stroke-width="0.9"/>
<rect x="725.5" y="476.46" width="7.07" height="4.99" fill="url(#pG2b_1)" stroke="#000" stroke-width="0.9"/>
<rect x="732.57" y="475.84" width="7.07" height="5.61" fill="url(#pG3_1)" stroke="#000" stroke-width="0.9"/>
<rect x="739.63" y="477.08" width="7.07" height="4.37" fill="url(#pA_1)" stroke="#000" stroke-width="0.9"/>
<rect x="757.3" y="475.52" width="7.07" height="5.93" fill="#fff" stroke="#000" stroke-width="0.9"/>
<rect x="764.37" y="477.08" width="7.07" height="4.37" fill="url(#pG1_1)" stroke="#000" stroke-width="0.9"/>
<rect x="771.43" y="475.21" width="7.07" height="6.24" fill="#000" stroke="#000" stroke-width="0.9"/>
<rect x="778.5" y="477.08" width="7.07" height="4.37" fill="url(#pG2b_1)" stroke="#000" stroke-width="0.9"/>
<rect x="785.57" y="472.72" width="7.07" height="8.73" fill="url(#pG3_1)" stroke="#000" stroke-width="0.9"/>
<rect x="792.63" y="476.46" width="7.07" height="4.99" fill="url(#pA_1)" stroke="#000" stroke-width="0.9"/>
<rect x="810.3" y="468.97" width="7.07" height="12.48" fill="#fff" stroke="#000" stroke-width="0.9"/>
<rect x="817.37" y="444.02" width="7.07" height="37.43" fill="url(#pG1_1)" stroke="#000" stroke-width="0.9"/>
<rect x="824.43" y="449.01" width="7.07" height="32.44" fill="#000" stroke="#000" stroke-width="0.9"/>
<rect x="831.5" y="472.72" width="7.07" height="8.73" fill="url(#pG2b_1)" stroke="#000" stroke-width="0.9"/>
<rect x="838.57" y="471.47" width="7.07" height="9.98" fill="url(#pG3_1)" stroke="#000" stroke-width="0.9"/>
<rect x="845.63" y="476.46" width="7.07" height="4.99" fill="url(#pA_1)" stroke="#000" stroke-width="0.9"/>
<path d="M496.5 474.59V472.72M493.5 472.72H499.5M503.5 478.95V470.84M500.5 470.84H506.5M510.5 476.46V468.97M507.5 468.97H513.5M517.5 475.21V470.84M514.5 470.84H520.5M524.5 478.33V465.23M521.5 465.23H527.5M549.5 468.97V465.23M546.5 465.23H552.5M563.5 475.84V468.97M560.5 468.97H566.5M570.5 477.08V475.21M567.5 475.21H573.5M577.5 477.08V475.21M574.5 475.21H580.5M584.5 474.59V473.96M581.5 473.96H587.5M609.5 478.95V472.09M606.5 472.09H612.5M616.5 477.08V469.6M613.5 469.6H619.5M623.5 477.08V470.84M620.5 470.84H626.5M630.5 477.08V470.22M627.5 470.22H633.5M637.5 477.08V473.34M634.5 473.34H640.5M662.5 479.58V465.23M659.5 465.23H665.5M669.5 474.9V468.97M666.5 468.97H672.5M690.5 475.84V473.96M687.5 473.96H693.5M708.5 473.65V465.23M705.5 465.23H711.5M715.5 472.4V453.38M712.5 453.38H718.5M722.5 471.78V449.01M719.5 449.01H725.5M729.5 476.46V475.84M726.5 475.84H732.5M736.5 475.84V472.72M733.5 472.72H739.5M768.5 477.08V475.52M765.5 475.52H771.5M775.5 475.21V472.72M772.5 472.72H778.5M789.5 472.72V465.23M786.5 465.23H792.5M796.5 476.46V475.21M793.5 475.21H799.5M821.5 444.02V399.1M818.5 399.1H824.5M828.5 449.01V434.66M825.5 434.66H831.5M835.5 472.72V451.51M832.5 451.51H838.5M842.5 471.47V461.49M839.5 461.49H845.5" fill="none" stroke="#333" stroke-width="1"/>
<path d="M486.5 293.8V484.45M483.5 481.45H486.5M483.5 419.07H486.5M483.5 356.68H486.5M483.5 294.3H486.5M486.5 481.45H858M539.5 481.45V484.45M592.5 481.45V484.45M645.5 481.45V484.45M698.5 481.45V484.45M751.5 481.45V484.45M804.5 481.45V484.45M857.5 481.45V484.45" fill="none" stroke="#000" stroke-width="1.2"/>
<text x="476" y="485.25" class="tk">0</text>
<text x="476" y="422.87" class="tk">1</text>
<text x="476" y="360.48" class="tk">2</text>
<text x="476" y="298.1" class="tk">3</text>
<text x="513" y="502.8" class="cat" letter-spacing="-0.7">C-B</text>
<text x="566" y="502.8" class="cat" letter-spacing="-0.5">B/P</text>
<text x="619" y="502.8" class="cat" letter-spacing="-0.7">C-D</text>
<text x="672" y="502.8" class="cat" letter-spacing="-0.5">D/B</text>
<text x="725" y="502.8" class="cat" letter-spacing="-0.5">D/P</text>
<text x="778" y="502.8" class="cat" letter-spacing="-0.7">C-P</text>
<text x="831" y="502.8" class="cat" letter-spacing="-0.5">P/B</text>
<text transform="translate(461.8 391.2) rotate(-90) scale(1.0 1)" class="od" style="font-size:14.5px">O.D.</text>
<rect x="498.8" y="299.8" width="6" height="6" fill="#fff" stroke="#000" stroke-width="0.9"/>
<text x="508.3" y="306.8" class="lg">IgM</text>
<rect x="498.8" y="315.7" width="6" height="6" fill="url(#pG1_1)" stroke="#000" stroke-width="0.9"/>
<text x="508.3" y="322.7" class="lg">IgG1</text>
<rect x="498.8" y="331.6" width="6" height="6" fill="#000" stroke="#000" stroke-width="0.9"/>
<text x="508.3" y="338.6" class="lg">IgG2a</text>
<rect x="498.8" y="347.5" width="6" height="6" fill="url(#pG2b_1)" stroke="#000" stroke-width="0.9"/>
<text x="508.3" y="354.5" class="lg">IgG2b</text>
<rect x="498.8" y="363.4" width="6" height="6" fill="url(#pG3_1)" stroke="#000" stroke-width="0.9"/>
<text x="508.3" y="370.4" class="lg">IgG3</text>
<rect x="498.8" y="379.3" width="6" height="6" fill="url(#pA_1)" stroke="#000" stroke-width="0.9"/>
<text x="508.3" y="386.3" class="lg">IgA</text>
<path d="M48.2 527.3H423.5" fill="none" stroke="#a8a8a8" stroke-width="1.3"/>
<path d="M423.5 527.3V720.6" fill="none" stroke="#ccc" stroke-width="1.3"/>
<rect x="54.06" y="701.59" width="7.15" height="19.01" fill="#fff" stroke="#000" stroke-width="0.9"/>
<rect x="61.21" y="711.58" width="7.15" height="9.02" fill="url(#pG1_2)" stroke="#000" stroke-width="0.9"/>
<rect x="68.36" y="711.26" width="7.15" height="9.34" fill="#333" stroke="#000" stroke-width="0.9"/>
<rect x="75.51" y="711.58" width="7.15" height="9.02" fill="url(#pG2b_2)" stroke="#000" stroke-width="0.9"/>
<rect x="82.66" y="711.58" width="7.15" height="9.02" fill="url(#pG3_2)" stroke="#000" stroke-width="0.9"/>
<rect x="89.8" y="713.83" width="7.15" height="6.77" fill="url(#pA_2)" stroke="#000" stroke-width="0.9"/>
<rect x="107.68" y="669.7" width="7.15" height="50.9" fill="#fff" stroke="#000" stroke-width="0.9"/>
<rect x="114.82" y="709" width="7.15" height="11.6" fill="url(#pG1_2)" stroke="#000" stroke-width="0.9"/>
<rect x="121.97" y="709" width="7.15" height="11.6" fill="#333" stroke="#000" stroke-width="0.9"/>
<rect x="129.12" y="707.07" width="7.15" height="13.53" fill="url(#pG2b_2)" stroke="#000" stroke-width="0.9"/>
<rect x="136.27" y="699.98" width="7.15" height="20.62" fill="url(#pG3_2)" stroke="#000" stroke-width="0.9"/>
<rect x="143.42" y="714.16" width="7.15" height="6.44" fill="url(#pA_2)" stroke="#000" stroke-width="0.9"/>
<rect x="161.29" y="711.26" width="7.15" height="9.34" fill="#fff" stroke="#000" stroke-width="0.9"/>
<rect x="168.44" y="713.83" width="7.15" height="6.77" fill="url(#pG1_2)" stroke="#000" stroke-width="0.9"/>
<rect x="175.59" y="712.22" width="7.15" height="8.38" fill="#333" stroke="#000" stroke-width="0.9"/>
<rect x="182.74" y="711.58" width="7.15" height="9.02" fill="url(#pG2b_2)" stroke="#000" stroke-width="0.9"/>
<rect x="189.88" y="710.29" width="7.15" height="10.31" fill="url(#pG3_2)" stroke="#000" stroke-width="0.9"/>
<rect x="197.03" y="714.16" width="7.15" height="6.44" fill="url(#pA_2)" stroke="#000" stroke-width="0.9"/>
<rect x="214.9" y="708.36" width="7.15" height="12.24" fill="#fff" stroke="#000" stroke-width="0.9"/>
<rect x="222.05" y="714.16" width="7.15" height="6.44" fill="url(#pG1_2)" stroke="#000" stroke-width="0.9"/>
<rect x="229.2" y="714.16" width="7.15" height="6.44" fill="#333" stroke="#000" stroke-width="0.9"/>
<rect x="236.35" y="714.16" width="7.15" height="6.44" fill="url(#pG2b_2)" stroke="#000" stroke-width="0.9"/>
<rect x="243.5" y="706.1" width="7.15" height="14.5" fill="url(#pG3_2)" stroke="#000" stroke-width="0.9"/>
<rect x="250.65" y="714.16" width="7.15" height="6.44" fill="url(#pA_2)" stroke="#000" stroke-width="0.9"/>
<rect x="268.52" y="712.87" width="7.15" height="7.73" fill="#fff" stroke="#000" stroke-width="0.9"/>
<rect x="275.67" y="714.16" width="7.15" height="6.44" fill="url(#pG1_2)" stroke="#000" stroke-width="0.9"/>
<rect x="282.82" y="712.87" width="7.15" height="7.73" fill="#333" stroke="#000" stroke-width="0.9"/>
<rect x="289.96" y="712.87" width="7.15" height="7.73" fill="url(#pG2b_2)" stroke="#000" stroke-width="0.9"/>
<rect x="297.11" y="712.87" width="7.15" height="7.73" fill="url(#pG3_2)" stroke="#000" stroke-width="0.9"/>
<rect x="304.26" y="714.16" width="7.15" height="6.44" fill="url(#pA_2)" stroke="#000" stroke-width="0.9"/>
<rect x="322.13" y="710.94" width="7.15" height="9.67" fill="#fff" stroke="#000" stroke-width="0.9"/>
<rect x="329.28" y="637.16" width="7.15" height="83.44" fill="url(#pG1_2)" stroke="#000" stroke-width="0.9"/>
<rect x="336.43" y="599.47" width="7.15" height="121.13" fill="#333" stroke="#000" stroke-width="0.9"/>
<rect x="343.58" y="605.26" width="7.15" height="115.34" fill="url(#pG2b_2)" stroke="#000" stroke-width="0.9"/>
<rect x="350.73" y="687.09" width="7.15" height="33.51" fill="url(#pG3_2)" stroke="#000" stroke-width="0.9"/>
<rect x="357.88" y="710.94" width="7.15" height="9.67" fill="url(#pA_2)" stroke="#000" stroke-width="0.9"/>
<rect x="375.75" y="691.93" width="7.15" height="28.67" fill="#fff" stroke="#000" stroke-width="0.9"/>
<rect x="382.9" y="568.22" width="7.15" height="152.38" fill="url(#pG1_2)" stroke="#000" stroke-width="0.9"/>
<rect x="390.04" y="598.5" width="7.15" height="122.1" fill="#333" stroke="#000" stroke-width="0.9"/>
<rect x="397.19" y="678.07" width="7.15" height="42.53" fill="url(#pG2b_2)" stroke="#000" stroke-width="0.9"/>
<rect x="404.34" y="698.05" width="7.15" height="22.55" fill="url(#pG3_2)" stroke="#000" stroke-width="0.9"/>
<rect x="411.49" y="710.94" width="7.15" height="9.67" fill="url(#pA_2)" stroke="#000" stroke-width="0.9"/>
<path d="M58.5 701.59V692.89M55.5 692.89H61.5M72.5 711.26V709.97M69.5 709.97H75.5M79.5 711.58V702.88M76.5 702.88H82.5M86.5 711.58V709M83.5 709H89.5M94.5 713.83V712.87M91.5 712.87H97.5M111.5 669.7V641.99M108.5 641.99H114.5M119.5 709V678.07M116.5 678.07H122.5M126.5 709V702.88M123.5 702.88H129.5M133.5 707.07V701.59M130.5 701.59H136.5M140.5 699.98V685.48M137.5 685.48H143.5M147.5 714.16V706.75M144.5 706.75H150.5M172.5 713.83V701.59M169.5 701.59H175.5M179.5 712.22V709.97M176.5 709.97H182.5M187.5 711.58V707.71M184.5 707.71H190.5M194.5 710.29V689.03M191.5 689.03H197.5M201.5 714.16V712.87M198.5 712.87H204.5M219.5 708.36V706.42M216.5 706.42H222.5M226.5 714.16V689.67M223.5 689.67H229.5M233.5 714.16V689.67M230.5 689.67H236.5M240.5 714.16V710.29M237.5 710.29H243.5M247.5 706.1V701.91M244.5 701.91H250.5M272.5 712.87V703.85M269.5 703.85H275.5M279.5 714.16V713.51M276.5 713.51H282.5M287.5 712.87V712.22M284.5 712.22H290.5M294.5 712.87V710.29M291.5 710.29H297.5M301.5 712.87V712.22M298.5 712.22H304.5M308.5 714.16V712.22M305.5 712.22H311.5M326.5 710.94V705.78M323.5 705.78H329.5M333.5 637.16V609.13M330.5 609.13H336.5M340.5 599.47V560.81M337.5 560.81H343.5M347.5 605.26V578.85M344.5 578.85H350.5M355.5 687.09V669.05M352.5 669.05H358.5M362.5 710.94V707.07M359.5 707.07H365.5M380.5 691.93V654.88M377.5 654.88H383.5M387.5 568.22V534.71M384.5 534.71H390.5M394.5 598.5V547.92M391.5 547.92H397.5M401.5 678.07V642.64M398.5 642.64H404.5M408.5 698.05V696.12M405.5 696.12H411.5M415.5 710.94V704.81M412.5 704.81H418.5" fill="none" stroke="#333" stroke-width="1"/>
<path d="M48.2 526.8V723.6M45.2 720.6H48.2M45.2 656.17H48.2M45.2 591.73H48.2M45.2 527.3H48.2M48.2 720.6H424M101.81 720.6V723.6M155.43 720.6V723.6M209.04 720.6V723.6M262.66 720.6V723.6M316.27 720.6V723.6M369.89 720.6V723.6M423.5 720.6V723.6" fill="none" stroke="#000" stroke-width="1.2"/>
<text transform="translate(38.7 724.7) scale(0.85 1)" class="tk" style="font-size:11.2px">0</text>
<text transform="translate(38.7 660.27) scale(0.85 1)" class="tk" style="font-size:11.2px">1</text>
<text transform="translate(38.7 595.83) scale(0.85 1)" class="tk" style="font-size:11.2px">2</text>
<text transform="translate(38.7 531.4) scale(0.85 1)" class="tk" style="font-size:11.2px">3</text>
<text x="74.71" y="742" class="cat" letter-spacing="-0.7">C-B</text>
<text x="128.32" y="742" class="cat" letter-spacing="-0.5">B</text>
<text x="181.94" y="742" class="cat" letter-spacing="-0.7">C-D</text>
<text x="235.55" y="742" class="cat" letter-spacing="-0.5">D</text>
<text x="289.16" y="742" class="cat" letter-spacing="-0.7">C-P</text>
<text x="342.78" y="742" class="cat" letter-spacing="-0.5">P</text>
<text x="396.39" y="742" class="cat" letter-spacing="-0.5">sP</text>
<text transform="translate(31.4 625.2) rotate(-90) scale(1.0 1)" class="od" style="font-size:14.5px">O.D.</text>
<rect x="64.1" y="534.3" width="6" height="6" fill="#fff" stroke="#000" stroke-width="0.9"/>
<text x="72" y="541.3" class="lg">IgM</text>
<rect x="64.1" y="551.9" width="6" height="6" fill="url(#pG1_2)" stroke="#000" stroke-width="0.9"/>
<text x="72" y="558.9" class="lg">IgG1</text>
<rect x="64.1" y="569.5" width="6" height="6" fill="#333" stroke="#000" stroke-width="0.9"/>
<text x="72" y="576.5" class="lg">IgG2a</text>
<rect x="64.1" y="587.1" width="6" height="6" fill="url(#pG2b_2)" stroke="#000" stroke-width="0.9"/>
<text x="72" y="594.1" class="lg">IgG2b</text>
<rect x="64.1" y="604.7" width="6" height="6" fill="url(#pG3_2)" stroke="#000" stroke-width="0.9"/>
<text x="72" y="611.7" class="lg">IgG3</text>
<rect x="64.1" y="622.3" width="6" height="6" fill="url(#pA_2)" stroke="#000" stroke-width="0.9"/>
<text x="72" y="629.3" class="lg">IgA</text>
<path d="M485.6 527.8H859.4" fill="none" stroke="#a8a8a8" stroke-width="1.3"/>
<path d="M859.4 527.8V723.85" fill="none" stroke="#ccc" stroke-width="1.3"/>
<rect x="491.44" y="703.59" width="7.12" height="20.26" fill="#fff" stroke="#000" stroke-width="0.9"/>
<rect x="498.56" y="716.33" width="7.12" height="7.52" fill="url(#pG1_2)" stroke="#000" stroke-width="0.9"/>
<rect x="505.68" y="714.37" width="7.12" height="9.48" fill="#333" stroke="#000" stroke-width="0.9"/>
<rect x="512.8" y="717.97" width="7.12" height="5.88" fill="url(#pG2b_2)" stroke="#000" stroke-width="0.9"/>
<rect x="519.92" y="717.64" width="7.12" height="6.21" fill="url(#pG3_2)" stroke="#000" stroke-width="0.9"/>
<rect x="527.04" y="719.28" width="7.12" height="4.57" fill="url(#pA_2)" stroke="#000" stroke-width="0.9"/>
<rect x="544.84" y="686.27" width="7.12" height="37.58" fill="#fff" stroke="#000" stroke-width="0.9"/>
<rect x="551.96" y="707.19" width="7.12" height="16.66" fill="url(#pG1_2)" stroke="#000" stroke-width="0.9"/>
<rect x="559.08" y="712.09" width="7.12" height="11.76" fill="#333" stroke="#000" stroke-width="0.9"/>
<rect x="566.2" y="717.64" width="7.12" height="6.21" fill="url(#pG2b_2)" stroke="#000" stroke-width="0.9"/>
<rect x="573.32" y="714.37" width="7.12" height="9.48" fill="url(#pG3_2)" stroke="#000" stroke-width="0.9"/>
<rect x="580.44" y="718.62" width="7.12" height="5.23" fill="url(#pA_2)" stroke="#000" stroke-width="0.9"/>
<rect x="598.24" y="717.64" width="7.12" height="6.21" fill="#fff" stroke="#000" stroke-width="0.9"/>
<rect x="605.36" y="716.01" width="7.12" height="7.84" fill="url(#pG1_2)" stroke="#000" stroke-width="0.9"/>
<rect x="612.48" y="716.33" width="7.12" height="7.52" fill="#333" stroke="#000" stroke-width="0.9"/>
<rect x="619.6" y="716.33" width="7.12" height="7.52" fill="url(#pG2b_2)" stroke="#000" stroke-width="0.9"/>
<rect x="626.72" y="716.33" width="7.12" height="7.52" fill="url(#pG3_2)" stroke="#000" stroke-width="0.9"/>
<rect x="633.84" y="717.64" width="7.12" height="6.21" fill="url(#pA_2)" stroke="#000" stroke-width="0.9"/>
<rect x="651.64" y="717.32" width="7.12" height="6.54" fill="#fff" stroke="#000" stroke-width="0.9"/>
<rect x="658.76" y="708.49" width="7.12" height="15.36" fill="url(#pG1_2)" stroke="#000" stroke-width="0.9"/>
<rect x="665.88" y="686.6" width="7.12" height="37.25" fill="#333" stroke="#000" stroke-width="0.9"/>
<rect x="673" y="716.01" width="7.12" height="7.84" fill="url(#pG2b_2)" stroke="#000" stroke-width="0.9"/>
<rect x="680.12" y="717.32" width="7.12" height="6.54" fill="url(#pG3_2)" stroke="#000" stroke-width="0.9"/>
<rect x="687.24" y="718.62" width="7.12" height="5.23" fill="url(#pA_2)" stroke="#000" stroke-width="0.9"/>
<rect x="705.04" y="716.01" width="7.12" height="7.84" fill="#fff" stroke="#000" stroke-width="0.9"/>
<rect x="712.16" y="717.32" width="7.12" height="6.54" fill="url(#pG1_2)" stroke="#000" stroke-width="0.9"/>
<rect x="719.28" y="718.62" width="7.12" height="5.23" fill="#333" stroke="#000" stroke-width="0.9"/>
<rect x="726.4" y="718.62" width="7.12" height="5.23" fill="url(#pG2b_2)" stroke="#000" stroke-width="0.9"/>
<rect x="733.52" y="718.62" width="7.12" height="5.23" fill="url(#pG3_2)" stroke="#000" stroke-width="0.9"/>
<rect x="740.64" y="718.3" width="7.12" height="5.55" fill="url(#pA_2)" stroke="#000" stroke-width="0.9"/>
<rect x="758.44" y="718.62" width="7.12" height="5.23" fill="#fff" stroke="#000" stroke-width="0.9"/>
<rect x="765.56" y="621.9" width="7.12" height="101.95" fill="url(#pG1_2)" stroke="#000" stroke-width="0.9"/>
<rect x="772.68" y="601.65" width="7.12" height="122.2" fill="#333" stroke="#000" stroke-width="0.9"/>
<rect x="779.8" y="566.36" width="7.12" height="157.49" fill="url(#pG2b_2)" stroke="#000" stroke-width="0.9"/>
<rect x="786.92" y="704.9" width="7.12" height="18.95" fill="url(#pG3_2)" stroke="#000" stroke-width="0.9"/>
<rect x="794.04" y="716.66" width="7.12" height="7.19" fill="url(#pA_2)" stroke="#000" stroke-width="0.9"/>
<rect x="811.84" y="690.85" width="7.12" height="33" fill="#fff" stroke="#000" stroke-width="0.9"/>
<rect x="818.96" y="617.98" width="7.12" height="105.87" fill="url(#pG1_2)" stroke="#000" stroke-width="0.9"/>
<rect x="826.08" y="689.54" width="7.12" height="34.31" fill="#333" stroke="#000" stroke-width="0.9"/>
<rect x="833.2" y="662.75" width="7.12" height="61.1" fill="url(#pG2b_2)" stroke="#000" stroke-width="0.9"/>
<rect x="840.32" y="717.32" width="7.12" height="6.54" fill="url(#pG3_2)" stroke="#000" stroke-width="0.9"/>
<rect x="847.44" y="718.3" width="7.12" height="5.55" fill="url(#pA_2)" stroke="#000" stroke-width="0.9"/>
<path d="M495.5 703.59V694.77M492.5 694.77H498.5M502.5 716.33V713.07M499.5 713.07H505.5M509.5 714.37V711.43M506.5 711.43H512.5M517.5 717.97V709.15M514.5 709.15H520.5M524.5 717.64V714.37M521.5 714.37H527.5M531.5 719.28V716.99M528.5 716.99H534.5M549.5 686.27V657.85M546.5 657.85H552.5M556.5 707.19V675.49M553.5 675.49H559.5M563.5 712.09V706.53M560.5 706.53H566.5M570.5 717.64V710.45M567.5 710.45H573.5M577.5 714.37V699.34M574.5 699.34H580.5M584.5 718.62V711.11M581.5 711.11H587.5M609.5 716.01V703.59M606.5 703.59H612.5M616.5 716.33V715.35M613.5 715.35H619.5M623.5 716.33V712.09M620.5 712.09H626.5M630.5 716.33V694.12M627.5 694.12H633.5M655.5 717.32V714.7M652.5 714.7H658.5M663.5 708.49V683.01M660.5 683.01H666.5M670.5 686.6V657.52M667.5 657.52H673.5M677.5 716.01V712.09M674.5 712.09H680.5M684.5 717.32V712.09M681.5 712.09H687.5M691.5 718.62V717.32M688.5 717.32H694.5M709.5 716.01V707.19M706.5 707.19H712.5M716.5 717.32V716.01M713.5 716.01H719.5M723.5 718.62V717.97M720.5 717.97H726.5M730.5 718.62V714.7M727.5 714.7H733.5M737.5 718.62V717.32M734.5 717.32H740.5M744.5 718.3V714.7M741.5 714.7H747.5M762.5 718.62V710.78M759.5 710.78H765.5M769.5 621.9V593.15M766.5 593.15H772.5M776.5 601.65V563.74M773.5 563.74H779.5M784.5 566.36V533.03M781.5 533.03H787.5M791.5 704.9V675.49M788.5 675.49H794.5M798.5 716.66V713.07M795.5 713.07H801.5M816.5 690.85V682.68M813.5 682.68H819.5M823.5 617.98V561.13M820.5 561.13H826.5M830.5 689.54V661.44M827.5 661.44H833.5M837.5 662.75V626.48M834.5 626.48H840.5M844.5 717.32V713.39M841.5 713.39H847.5M851.5 718.3V710.78M848.5 710.78H854.5" fill="none" stroke="#333" stroke-width="1"/>
<path d="M485.6 527.3V726.85M482.6 723.85H485.6M482.6 658.5H485.6M482.6 593.15H485.6M482.6 527.8H485.6M485.6 723.85H859.9M539 723.85V726.85M592.4 723.85V726.85M645.8 723.85V726.85M699.2 723.85V726.85M752.6 723.85V726.85M806 723.85V726.85M859.4 723.85V726.85" fill="none" stroke="#000" stroke-width="1.2"/>
<text transform="translate(474.6 727.95) scale(0.85 1)" class="tk" style="font-size:11.2px">0</text>
<text transform="translate(474.6 662.6) scale(0.85 1)" class="tk" style="font-size:11.2px">1</text>
<text transform="translate(474.6 597.25) scale(0.85 1)" class="tk" style="font-size:11.2px">2</text>
<text transform="translate(474.6 531.9) scale(0.85 1)" class="tk" style="font-size:11.2px">3</text>
<text x="512" y="745.3" class="cat" letter-spacing="-0.7">C-B</text>
<text x="565.4" y="745.3" class="cat" letter-spacing="-0.5">B</text>
<text x="618.8" y="745.3" class="cat" letter-spacing="-0.7">C-D</text>
<text x="672.2" y="745.3" class="cat" letter-spacing="-0.5">D</text>
<text x="725.6" y="745.3" class="cat" letter-spacing="-0.7">C-P</text>
<text x="779" y="745.3" class="cat" letter-spacing="-0.5">P</text>
<text x="832.4" y="745.3" class="cat" letter-spacing="-0.5">sP</text>
<text transform="translate(467.8 629.5) rotate(-90) scale(1.0 1)" class="od" style="font-size:14.5px">O.D.</text>
<rect x="499.7" y="534.4" width="6" height="6" fill="#fff" stroke="#000" stroke-width="0.9"/>
<text x="509.5" y="541.4" class="lg">IgM</text>
<rect x="499.7" y="551.1" width="6" height="6" fill="url(#pG1_2)" stroke="#000" stroke-width="0.9"/>
<text x="509.5" y="558.1" class="lg">IgG1</text>
<rect x="499.7" y="567.8" width="6" height="6" fill="#333" stroke="#000" stroke-width="0.9"/>
<text x="509.5" y="574.8" class="lg">IgG2a</text>
<rect x="499.7" y="584.5" width="6" height="6" fill="url(#pG2b_2)" stroke="#000" stroke-width="0.9"/>
<text x="509.5" y="591.5" class="lg">IgG2b</text>
<rect x="499.7" y="601.2" width="6" height="6" fill="url(#pG3_2)" stroke="#000" stroke-width="0.9"/>
<text x="509.5" y="608.2" class="lg">IgG3</text>
<rect x="499.7" y="617.9" width="6" height="6" fill="url(#pA_2)" stroke="#000" stroke-width="0.9"/>
<text x="509.5" y="624.9" class="lg">IgA</text>
<path d="M44.9 770.6H423.5" fill="none" stroke="#a8a8a8" stroke-width="1.3"/>
<path d="M423.5 770.6V959.55" fill="none" stroke="#ccc" stroke-width="1.3"/>
<rect x="50.81" y="941.6" width="7.21" height="17.95" fill="#fff" stroke="#000" stroke-width="0.9"/>
<rect x="58.02" y="952.62" width="7.21" height="6.93" fill="url(#pG1_2)" stroke="#000" stroke-width="0.9"/>
<rect x="65.23" y="951.99" width="7.21" height="7.56" fill="#333" stroke="#000" stroke-width="0.9"/>
<rect x="72.44" y="950.73" width="7.21" height="8.82" fill="url(#pG2b_2)" stroke="#000" stroke-width="0.9"/>
<rect x="79.65" y="951.99" width="7.21" height="7.56" fill="url(#pG3_2)" stroke="#000" stroke-width="0.9"/>
<rect x="86.87" y="953.25" width="7.21" height="6.3" fill="url(#pA_2)" stroke="#000" stroke-width="0.9"/>
<rect x="104.89" y="942.54" width="7.21" height="17.01" fill="#fff" stroke="#000" stroke-width="0.9"/>
<rect x="112.11" y="839.88" width="7.21" height="119.67" fill="url(#pG1_2)" stroke="#000" stroke-width="0.9"/>
<rect x="119.32" y="798.31" width="7.21" height="161.24" fill="#333" stroke="#000" stroke-width="0.9"/>
<rect x="126.53" y="832.01" width="7.21" height="127.54" fill="url(#pG2b_2)" stroke="#000" stroke-width="0.9"/>
<rect x="133.74" y="914.83" width="7.21" height="44.72" fill="url(#pG3_2)" stroke="#000" stroke-width="0.9"/>
<rect x="140.95" y="950.1" width="7.21" height="9.45" fill="url(#pA_2)" stroke="#000" stroke-width="0.9"/>
<rect x="158.98" y="950.73" width="7.21" height="8.82" fill="#fff" stroke="#000" stroke-width="0.9"/>
<rect x="166.19" y="953.57" width="7.21" height="5.98" fill="url(#pG1_2)" stroke="#000" stroke-width="0.9"/>
<rect x="173.4" y="951.99" width="7.21" height="7.56" fill="#333" stroke="#000" stroke-width="0.9"/>
<rect x="180.61" y="950.73" width="7.21" height="8.82" fill="url(#pG2b_2)" stroke="#000" stroke-width="0.9"/>
<rect x="187.83" y="949.79" width="7.21" height="9.76" fill="url(#pG3_2)" stroke="#000" stroke-width="0.9"/>
<rect x="195.04" y="953.25" width="7.21" height="6.3" fill="url(#pA_2)" stroke="#000" stroke-width="0.9"/>
<rect x="213.07" y="914.83" width="7.21" height="44.72" fill="#fff" stroke="#000" stroke-width="0.9"/>
<rect x="220.28" y="949.47" width="7.21" height="10.08" fill="url(#pG1_2)" stroke="#000" stroke-width="0.9"/>
<rect x="227.49" y="947.58" width="7.21" height="11.97" fill="#333" stroke="#000" stroke-width="0.9"/>
<rect x="234.7" y="949.16" width="7.21" height="10.39" fill="url(#pG2b_2)" stroke="#000" stroke-width="0.9"/>
<rect x="241.91" y="940.97" width="7.21" height="18.58" fill="url(#pG3_2)" stroke="#000" stroke-width="0.9"/>
<rect x="249.12" y="953.25" width="7.21" height="6.3" fill="url(#pA_2)" stroke="#000" stroke-width="0.9"/>
<rect x="267.15" y="948.21" width="7.21" height="11.34" fill="#fff" stroke="#000" stroke-width="0.9"/>
<rect x="274.36" y="884.6" width="7.21" height="74.95" fill="url(#pG1_2)" stroke="#000" stroke-width="0.9"/>
<rect x="281.57" y="843.35" width="7.21" height="116.2" fill="#333" stroke="#000" stroke-width="0.9"/>
<rect x="288.79" y="855.63" width="7.21" height="103.92" fill="url(#pG2b_2)" stroke="#000" stroke-width="0.9"/>
<rect x="296" y="907.59" width="7.21" height="51.96" fill="url(#pG3_2)" stroke="#000" stroke-width="0.9"/>
<rect x="303.21" y="951.99" width="7.21" height="7.56" fill="url(#pA_2)" stroke="#000" stroke-width="0.9"/>
<rect x="321.24" y="951.99" width="7.21" height="7.56" fill="#fff" stroke="#000" stroke-width="0.9"/>
<rect x="328.45" y="953.25" width="7.21" height="6.3" fill="url(#pG1_2)" stroke="#000" stroke-width="0.9"/>
<rect x="335.66" y="953.25" width="7.21" height="6.3" fill="#333" stroke="#000" stroke-width="0.9"/>
<rect x="342.87" y="953.25" width="7.21" height="6.3" fill="url(#pG2b_2)" stroke="#000" stroke-width="0.9"/>
<rect x="350.08" y="953.25" width="7.21" height="6.3" fill="url(#pG3_2)" stroke="#000" stroke-width="0.9"/>
<rect x="357.29" y="953.25" width="7.21" height="6.3" fill="url(#pA_2)" stroke="#000" stroke-width="0.9"/>
<rect x="375.32" y="932.15" width="7.21" height="27.4" fill="#fff" stroke="#000" stroke-width="0.9"/>
<rect x="382.53" y="878.62" width="7.21" height="80.93" fill="url(#pG1_2)" stroke="#000" stroke-width="0.9"/>
<rect x="389.75" y="850.59" width="7.21" height="108.96" fill="#333" stroke="#000" stroke-width="0.9"/>
<rect x="396.96" y="870.74" width="7.21" height="88.81" fill="url(#pG2b_2)" stroke="#000" stroke-width="0.9"/>
<rect x="404.17" y="936.56" width="7.21" height="22.99" fill="url(#pG3_2)" stroke="#000" stroke-width="0.9"/>
<rect x="411.38" y="951.99" width="7.21" height="7.56" fill="url(#pA_2)" stroke="#000" stroke-width="0.9"/>
<path d="M55.5 941.6V933.1M52.5 933.1H58.5M62.5 952.62V950.73M59.5 950.73H65.5M69.5 951.99V948.84M66.5 948.84H72.5M76.5 950.73V942.23M73.5 942.23H79.5M83.5 951.99V949.16M80.5 949.16H86.5M109.5 942.54V937.19M106.5 937.19H112.5M116.5 839.88V785.72M113.5 785.72H119.5M123.5 798.31V784.46M120.5 784.46H126.5M130.5 832.01V800.2M127.5 800.2H133.5M138.5 914.83V901.61M135.5 901.61H141.5M145.5 950.1V936.88M142.5 936.88H148.5M170.5 953.57V941.28M167.5 941.28H173.5M177.5 951.99V950.73M174.5 950.73H180.5M184.5 950.73V947.58M181.5 947.58H187.5M192.5 949.79V929.63M189.5 929.63H195.5M199.5 953.25V951.99M196.5 951.99H202.5M217.5 914.83V906.96M214.5 906.96H220.5M224.5 949.47V932.15M221.5 932.15H227.5M231.5 947.58V940.97M228.5 940.97H234.5M239.5 949.16V929.63M236.5 929.63H242.5M246.5 940.97V937.19M243.5 937.19H249.5M253.5 953.25V947.58M250.5 947.58H256.5M271.5 948.21V935.3M268.5 935.3H274.5M278.5 884.6V873.58M275.5 873.58H281.5M285.5 843.35V804.93M282.5 804.93H288.5M293.5 855.63V784.77M290.5 784.77H296.5M300.5 907.59V895.31M297.5 895.31H303.5M307.5 951.99V941.91M304.5 941.91H310.5M325.5 951.99V942.54M322.5 942.54H328.5M339.5 953.25V951.99M336.5 951.99H342.5M347.5 953.25V949.16M344.5 949.16H350.5M354.5 953.25V936.88M351.5 936.88H357.5M361.5 953.25V951.99M358.5 951.99H364.5M379.5 932.15V898.14M376.5 898.14H382.5M386.5 878.62V853.74M383.5 853.74H389.5M394.5 850.59V803.35M391.5 803.35H397.5M401.5 870.74V808.39M398.5 808.39H404.5M408.5 936.56V933.1M405.5 933.1H411.5M415.5 951.99V949.16M412.5 949.16H418.5" fill="none" stroke="#333" stroke-width="1"/>
<path d="M44.9 770.1V962.55M41.9 959.55H44.9M41.9 896.57H44.9M41.9 833.58H44.9M41.9 770.6H44.9M44.9 959.55H424M98.99 959.55V962.55M153.07 959.55V962.55M207.16 959.55V962.55M261.24 959.55V962.55M315.33 959.55V962.55M369.41 959.55V962.55M423.5 959.55V962.55" fill="none" stroke="#000" stroke-width="1.2"/>
<text transform="translate(34.8 963.65) scale(0.85 1)" class="tk" style="font-size:11.2px">0</text>
<text transform="translate(34.8 900.67) scale(0.85 1)" class="tk" style="font-size:11.2px">1</text>
<text transform="translate(34.8 837.68) scale(0.85 1)" class="tk" style="font-size:11.2px">2</text>
<text transform="translate(34.8 774.7) scale(0.85 1)" class="tk" style="font-size:11.2px">3</text>
<text x="72.04" y="981" class="cat" letter-spacing="-0.7">C-B</text>
<text x="126.13" y="981" class="cat" letter-spacing="-0.5">B/P</text>
<text x="180.21" y="981" class="cat" letter-spacing="-0.7">C-D</text>
<text x="234.3" y="981" class="cat" letter-spacing="-0.5">D/B</text>
<text x="288.39" y="981" class="cat" letter-spacing="-0.5">D/P</text>
<text x="342.47" y="981" class="cat" letter-spacing="-0.7">C-P</text>
<text x="396.56" y="981" class="cat" letter-spacing="-0.5">P/B</text>
<text transform="translate(30.5 869.3) rotate(-90) scale(0.93 1)" class="od" style="font-size:14.5px">O.D.</text>
<rect x="59.3" y="776.4" width="6" height="6" fill="#fff" stroke="#000" stroke-width="0.9"/>
<text x="67.7" y="783.4" class="lg">IgM</text>
<rect x="59.3" y="793.2" width="6" height="6" fill="url(#pG1_2)" stroke="#000" stroke-width="0.9"/>
<text x="67.7" y="800.2" class="lg">IgG1</text>
<rect x="59.3" y="810" width="6" height="6" fill="#333" stroke="#000" stroke-width="0.9"/>
<text x="67.7" y="817" class="lg">IgG2a</text>
<rect x="59.3" y="826.8" width="6" height="6" fill="url(#pG2b_2)" stroke="#000" stroke-width="0.9"/>
<text x="67.7" y="833.8" class="lg">IgG2b</text>
<rect x="59.3" y="843.6" width="6" height="6" fill="url(#pG3_2)" stroke="#000" stroke-width="0.9"/>
<text x="67.7" y="850.6" class="lg">IgG3</text>
<rect x="59.3" y="860.4" width="6" height="6" fill="url(#pA_2)" stroke="#000" stroke-width="0.9"/>
<text x="67.7" y="867.4" class="lg">IgA</text>
<path d="M484 770.6H860.4" fill="none" stroke="#a8a8a8" stroke-width="1.3"/>
<path d="M860.4 770.6V959.3" fill="none" stroke="#ccc" stroke-width="1.3"/>
<rect x="489.88" y="939.17" width="7.17" height="20.13" fill="#fff" stroke="#000" stroke-width="0.9"/>
<rect x="497.05" y="951.75" width="7.17" height="7.55" fill="url(#pG1_2)" stroke="#000" stroke-width="0.9"/>
<rect x="504.22" y="949.55" width="7.17" height="9.75" fill="#333" stroke="#000" stroke-width="0.9"/>
<rect x="511.39" y="953.64" width="7.17" height="5.66" fill="url(#pG2b_2)" stroke="#000" stroke-width="0.9"/>
<rect x="518.56" y="952.38" width="7.17" height="6.92" fill="url(#pG3_2)" stroke="#000" stroke-width="0.9"/>
<rect x="525.72" y="953.64" width="7.17" height="5.66" fill="url(#pA_2)" stroke="#000" stroke-width="0.9"/>
<rect x="543.65" y="952.38" width="7.17" height="6.92" fill="#fff" stroke="#000" stroke-width="0.9"/>
<rect x="550.82" y="847.97" width="7.17" height="111.33" fill="url(#pG1_2)" stroke="#000" stroke-width="0.9"/>
<rect x="557.99" y="827.21" width="7.17" height="132.09" fill="#333" stroke="#000" stroke-width="0.9"/>
<rect x="565.16" y="809.28" width="7.17" height="150.02" fill="url(#pG2b_2)" stroke="#000" stroke-width="0.9"/>
<rect x="572.33" y="948.29" width="7.17" height="11.01" fill="url(#pG3_2)" stroke="#000" stroke-width="0.9"/>
<rect x="579.5" y="953.01" width="7.17" height="6.29" fill="url(#pA_2)" stroke="#000" stroke-width="0.9"/>
<rect x="597.42" y="953.64" width="7.17" height="5.66" fill="#fff" stroke="#000" stroke-width="0.9"/>
<rect x="604.59" y="952.38" width="7.17" height="6.92" fill="url(#pG1_2)" stroke="#000" stroke-width="0.9"/>
<rect x="611.76" y="952.38" width="7.17" height="6.92" fill="#333" stroke="#000" stroke-width="0.9"/>
<rect x="618.93" y="952.38" width="7.17" height="6.92" fill="url(#pG2b_2)" stroke="#000" stroke-width="0.9"/>
<rect x="626.1" y="952.38" width="7.17" height="6.92" fill="url(#pG3_2)" stroke="#000" stroke-width="0.9"/>
<rect x="633.27" y="953.64" width="7.17" height="5.66" fill="url(#pA_2)" stroke="#000" stroke-width="0.9"/>
<rect x="651.19" y="949.24" width="7.17" height="10.06" fill="#fff" stroke="#000" stroke-width="0.9"/>
<rect x="658.36" y="954.27" width="7.17" height="5.03" fill="url(#pG1_2)" stroke="#000" stroke-width="0.9"/>
<rect x="665.53" y="942" width="7.17" height="17.3" fill="#333" stroke="#000" stroke-width="0.9"/>
<rect x="672.7" y="946.72" width="7.17" height="12.58" fill="url(#pG2b_2)" stroke="#000" stroke-width="0.9"/>
<rect x="679.87" y="947.98" width="7.17" height="11.32" fill="url(#pG3_2)" stroke="#000" stroke-width="0.9"/>
<rect x="687.04" y="951.75" width="7.17" height="7.55" fill="url(#pA_2)" stroke="#000" stroke-width="0.9"/>
<rect x="704.96" y="954.27" width="7.17" height="5.03" fill="#fff" stroke="#000" stroke-width="0.9"/>
<rect x="712.13" y="904.89" width="7.17" height="54.41" fill="url(#pG1_2)" stroke="#000" stroke-width="0.9"/>
<rect x="719.3" y="864.64" width="7.17" height="94.66" fill="#333" stroke="#000" stroke-width="0.9"/>
<rect x="726.47" y="842.62" width="7.17" height="116.68" fill="url(#pG2b_2)" stroke="#000" stroke-width="0.9"/>
<rect x="733.64" y="942.95" width="7.17" height="16.35" fill="url(#pG3_2)" stroke="#000" stroke-width="0.9"/>
<rect x="740.81" y="951.75" width="7.17" height="7.55" fill="url(#pA_2)" stroke="#000" stroke-width="0.9"/>
<rect x="758.73" y="951.75" width="7.17" height="7.55" fill="#fff" stroke="#000" stroke-width="0.9"/>
<rect x="765.9" y="953.01" width="7.17" height="6.29" fill="url(#pG1_2)" stroke="#000" stroke-width="0.9"/>
<rect x="773.07" y="953.64" width="7.17" height="5.66" fill="#333" stroke="#000" stroke-width="0.9"/>
<rect x="780.24" y="953.01" width="7.17" height="6.29" fill="url(#pG2b_2)" stroke="#000" stroke-width="0.9"/>
<rect x="787.41" y="954.27" width="7.17" height="5.03" fill="url(#pG3_2)" stroke="#000" stroke-width="0.9"/>
<rect x="794.58" y="953.64" width="7.17" height="5.66" fill="url(#pA_2)" stroke="#000" stroke-width="0.9"/>
<rect x="812.51" y="934.45" width="7.17" height="24.85" fill="#fff" stroke="#000" stroke-width="0.9"/>
<rect x="819.68" y="824.69" width="7.17" height="134.61" fill="url(#pG1_2)" stroke="#000" stroke-width="0.9"/>
<rect x="826.84" y="908.67" width="7.17" height="50.63" fill="#333" stroke="#000" stroke-width="0.9"/>
<rect x="834.01" y="922.19" width="7.17" height="37.11" fill="url(#pG2b_2)" stroke="#000" stroke-width="0.9"/>
<rect x="841.18" y="953.01" width="7.17" height="6.29" fill="url(#pG3_2)" stroke="#000" stroke-width="0.9"/>
<rect x="848.35" y="953.01" width="7.17" height="6.29" fill="url(#pA_2)" stroke="#000" stroke-width="0.9"/>
<path d="M494.5 939.17V931.62M491.5 931.62H497.5M501.5 951.75V949.87M498.5 949.87H504.5M508.5 949.55V947.66M505.5 947.66H511.5M515.5 953.64V944.52M512.5 944.52H518.5M522.5 952.38V949.55M519.5 949.55H525.5M530.5 953.64V952.38M527.5 952.38H533.5M547.5 952.38V945.46M544.5 945.46H550.5M555.5 847.97V819.03M552.5 819.03H558.5M562.5 827.21V780.98M559.5 780.98H565.5M569.5 809.28V776.89M566.5 776.89H572.5M576.5 948.29V931.62M573.5 931.62H579.5M583.5 953.01V938.86M580.5 938.86H586.5M601.5 953.64V953.01M598.5 953.01H604.5M608.5 952.38V939.8M605.5 939.8H611.5M616.5 952.38V951.75M613.5 951.75H619.5M623.5 952.38V947.66M620.5 947.66H626.5M630.5 952.38V931.62M627.5 931.62H633.5M637.5 953.64V952.38M634.5 952.38H640.5M655.5 949.24V940.74M652.5 940.74H658.5M662.5 954.27V936.34M659.5 936.34H665.5M669.5 942V922.82M666.5 922.82H672.5M676.5 946.72V925.33M673.5 925.33H679.5M684.5 947.98V922.82M681.5 922.82H687.5M691.5 951.75V946.09M688.5 946.09H694.5M709.5 954.27V940.74M706.5 940.74H712.5M716.5 904.89V894.51M713.5 894.51H719.5M723.5 864.64V827.21M720.5 827.21H726.5M730.5 842.62V784.12M727.5 784.12H733.5M737.5 942.95V919.67M734.5 919.67H740.5M745.5 951.75V942.32M742.5 942.32H748.5M763.5 951.75V944.2M760.5 944.2H766.5M777.5 953.64V953.01M774.5 953.01H780.5M784.5 953.01V950.18M781.5 950.18H787.5M791.5 954.27V953.01M788.5 953.01H794.5M798.5 953.64V951.12M795.5 951.12H801.5M816.5 934.45V899.86M813.5 899.86H819.5M823.5 824.69V798.28M820.5 798.28H826.5M831.5 908.67V863.69M828.5 863.69H834.5M838.5 922.19V892.63M835.5 892.63H841.5M845.5 953.01V942.32M842.5 942.32H848.5M852.5 953.01V948.92M849.5 948.92H855.5" fill="none" stroke="#333" stroke-width="1"/>
<path d="M484 770.1V962.3M481 959.3H484M481 896.4H484M481 833.5H484M481 770.6H484M484 959.3H860.9M537.77 959.3V962.3M591.54 959.3V962.3M645.31 959.3V962.3M699.09 959.3V962.3M752.86 959.3V962.3M806.63 959.3V962.3M860.4 959.3V962.3" fill="none" stroke="#000" stroke-width="1.2"/>
<text transform="translate(473.6 963.4) scale(0.85 1)" class="tk" style="font-size:11.2px">0</text>
<text transform="translate(473.6 900.5) scale(0.85 1)" class="tk" style="font-size:11.2px">1</text>
<text transform="translate(473.6 837.6) scale(0.85 1)" class="tk" style="font-size:11.2px">2</text>
<text transform="translate(473.6 774.7) scale(0.85 1)" class="tk" style="font-size:11.2px">3</text>
<text x="510.99" y="981" class="cat" letter-spacing="-0.7">C-B</text>
<text x="564.76" y="981" class="cat" letter-spacing="-0.5">B/P</text>
<text x="618.53" y="981" class="cat" letter-spacing="-0.7">C-D</text>
<text x="672.3" y="981" class="cat" letter-spacing="-0.5">D/B</text>
<text x="726.07" y="981" class="cat" letter-spacing="-0.5">D/P</text>
<text x="779.84" y="981" class="cat" letter-spacing="-0.7">C-P</text>
<text x="833.61" y="981" class="cat" letter-spacing="-0.5">P/B</text>
<text transform="translate(468.2 867.5) rotate(-90) scale(1.0 1)" class="od" style="font-size:12.8px">O.D.</text>
<rect x="496" y="776.8" width="6" height="6" fill="#fff" stroke="#000" stroke-width="0.9"/>
<text x="504" y="783.8" class="lg">IgM</text>
<rect x="496" y="793.4" width="6" height="6" fill="url(#pG1_2)" stroke="#000" stroke-width="0.9"/>
<text x="504" y="800.4" class="lg">IgG1</text>
<rect x="496" y="810" width="6" height="6" fill="#333" stroke="#000" stroke-width="0.9"/>
<text x="504" y="817" class="lg">IgG2a</text>
<rect x="496" y="826.6" width="6" height="6" fill="url(#pG2b_2)" stroke="#000" stroke-width="0.9"/>
<text x="504" y="833.6" class="lg">IgG2b</text>
<rect x="496" y="843.2" width="6" height="6" fill="url(#pG3_2)" stroke="#000" stroke-width="0.9"/>
<text x="504" y="850.2" class="lg">IgG3</text>
<rect x="496" y="859.8" width="6" height="6" fill="url(#pA_2)" stroke="#000" stroke-width="0.9"/>
<text x="504" y="866.8" class="lg">IgA</text>
</g>
</svg>
</body></html>
